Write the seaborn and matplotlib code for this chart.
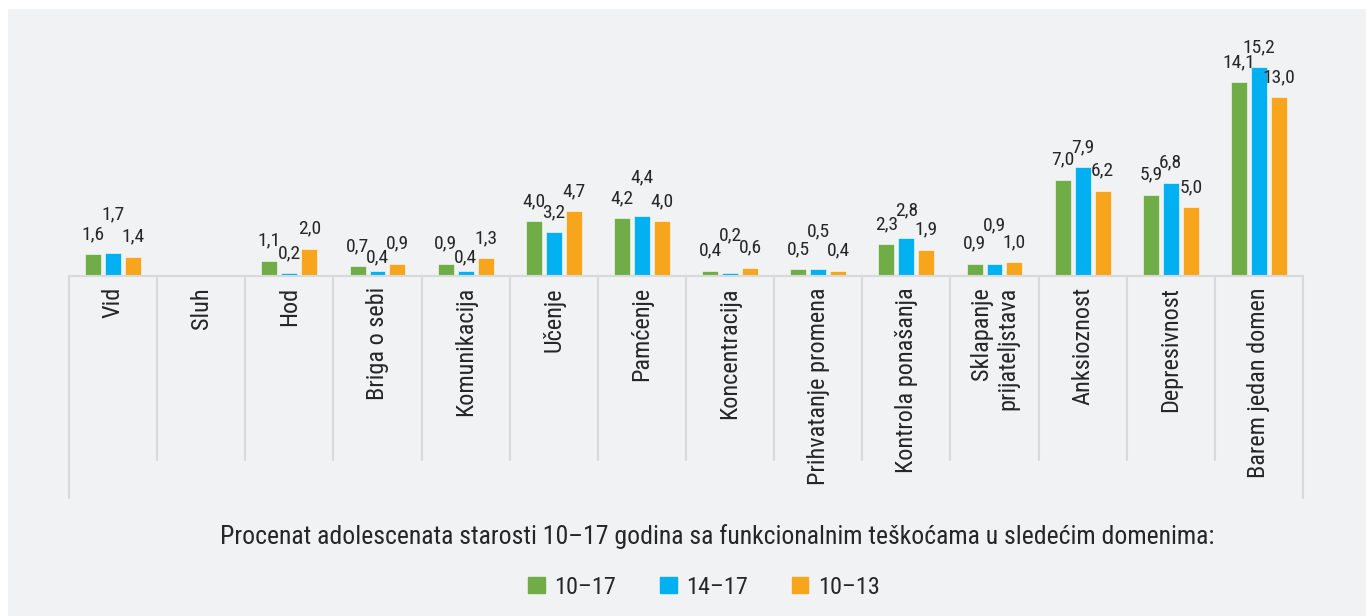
import matplotlib
matplotlib.use("Agg")
import matplotlib.pyplot as plt
import matplotlib.transforms as mtransforms
from matplotlib import font_manager
from matplotlib.patches import Rectangle
import numpy as np
import pandas as pd
import seaborn as sns

categories = ["Vid", "Sluh", "Hod", "Briga o sebi", "Komunikacija", "Učenje",
              "Pamćenje", "Koncentracija", "Prihvatanje promena",
              "Kontrola ponašanja", "Sklapanje\nprijateljstava", "Anksioznost",
              "Depresivnost", "Barem jedan domen"]
series_names = ["10–17", "14–17", "10–13"]
vals_10_17 = [1.6, np.nan, 1.1, 0.7, 0.9, 4.0, 4.2, 0.4, 0.5, 2.3, 0.9, 7.0, 5.9, 14.1]
vals_14_17 = [1.7, np.nan, 0.2, 0.4, 0.4, 3.2, 4.4, 0.2, 0.5, 2.8, 0.9, 7.9, 6.8, 15.2]
vals_10_13 = [1.4, np.nan, 2.0, 0.9, 1.3, 4.7, 4.0, 0.6, 0.4, 1.9, 1.0, 6.2, 5.0, 13.0]
colors = ["#70ad47", "#00b0f0", "#f7a51c"]
title_text = "Procenat adolescenata starosti 10–17 godina sa funkcionalnim teškoćama u sledećim domenima:"

# pick a narrow font if one is around
installed = {f.name for f in font_manager.fontManager.ttflist}
font = "DejaVu Sans"
for cand in ["Roboto Condensed", "Liberation Sans Narrow", "DejaVu Sans Condensed", "Roboto"]:
    if cand in installed:
        font = cand
        break

sns.set_theme(style="white")
plt.rcParams["font.family"] = [font, "DejaVu Sans"]
text_col = "#262626"
grid_col = "#d9d9d9"
bg_col = "#f1f2f4"

df = pd.DataFrame({
    "domain": categories * 3,
    "group": sum([[s] * len(categories) for s in series_names], []),
    "value": vals_10_17 + vals_14_17 + vals_10_13,
})

W, H = 1366, 616
fig = plt.figure(figsize=(W / 100, H / 100), dpi=100, facecolor="white")
fig.patches.append(Rectangle((8 / W, 0), 1, 1 - 9 / H, transform=fig.transFigure,
                             facecolor=bg_col, edgecolor="none", zorder=-10))
ax = fig.add_axes([69 / W, 1 - 276 / H, (1303 - 69) / W, (276 - 20) / H])
ax.set_facecolor("none")

sns.barplot(data=df, x="domain", y="value", hue="group", order=categories,
            hue_order=series_names, palette=colors, width=0.68, gap=0.2,
            edgecolor="#ffffff", linewidth=0.4, saturation=1, legend=True, ax=ax)

ax.set_xlim(-0.5, len(categories) - 0.5)
ax.set_ylim(0, 18.62)
for s in ax.spines.values():
    s.set_visible(False)
ax.set_yticks([])
ax.set_xlabel("")
ax.set_ylabel("")
ax.tick_params(axis="x", length=0, pad=8)
ax.set_xticks(range(len(categories)))
ax.set_xticklabels(categories, rotation=90, fontsize=17.5, color=text_col,
                   va="top", ha="center", multialignment="right")

# category frame: baseline + dividers
trans = mtransforms.blended_transform_factory(ax.transData, ax.transAxes)
ax.plot([-0.5, len(categories) - 0.5], [0, 0], transform=trans, color=grid_col,
        lw=1.5, clip_on=False, zorder=1)
for i in range(len(categories) + 1):
    edge = i == 0 or i == len(categories)
    ax.plot([i - 0.5, i - 0.5], [0, -0.867 if edge else -0.719], transform=trans,
            color=grid_col, lw=1.5, clip_on=False, zorder=1)

# value labels; middle label is nudged away when it would clash with a neighbour
series_vals = [vals_10_17, vals_14_17, vals_10_13]
for k, cont in enumerate(ax.containers):
    for bar in cont.patches:
        xc = bar.get_x() + bar.get_width() / 2
        i = int(round(xc))
        v = series_vals[k][i]
        if np.isnan(v):
            continue
        lift = 8
        if k == 1:
            diffs = [v - vals_10_17[i], v - vals_10_13[i]]
            d = min(diffs, key=abs)
            if abs(d) < 0.25:
                lift += 13
            elif abs(d) < 0.6:
                lift += 5 if d > 0 else -5
        ax.annotate(f"{v:.1f}".replace(".", ","), (xc, v),
                    xytext=(0, lift), textcoords="offset points",
                    ha="center", va="bottom", fontsize=14, color=text_col)

ax.get_legend().remove()
handles = [Rectangle((0, 0), 1, 1, color=c) for c in colors]
fig.legend(handles, series_names, loc="center", bbox_to_anchor=(704 / W, 1 - 587 / H),
           ncol=3, frameon=False, fontsize=17.5, handlelength=0.68, handleheight=0.68,
           handletextpad=0.4, columnspacing=1.8, labelcolor=text_col)
fig.text(717 / W, 1 - 537 / H, title_text, ha="center", va="center",
         fontsize=18.5, color=text_col)

fig.savefig("out.png", dpi=100, facecolor=fig.get_facecolor())
